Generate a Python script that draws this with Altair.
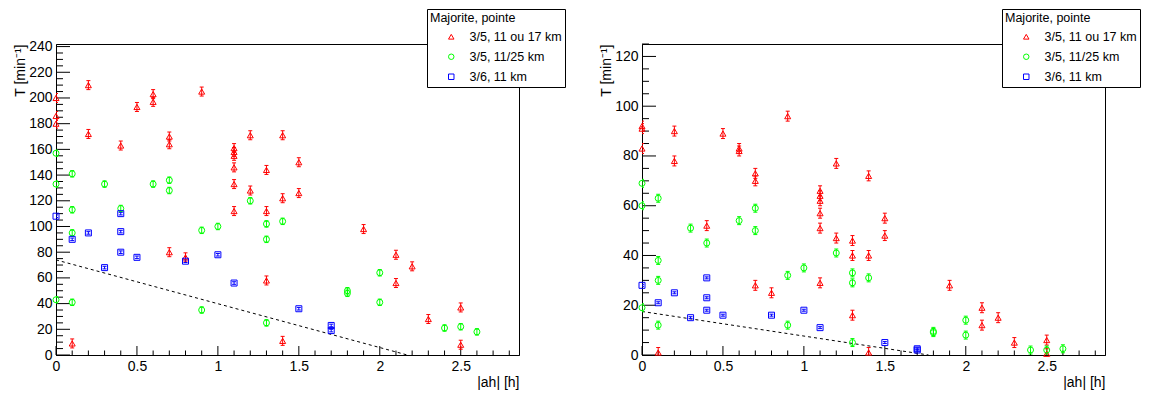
import altair as alt
import pandas as pd

SERIES = ["3/5, 11 ou 17 km", "3/5, 11/25 km", "3/6, 11 km"]
COLORS = ["#ff0000", "#00ff00", "#0000ff"]
SHAPES = ["triangle-up", "circle", "square"]
LEGEND_TITLE = "Majorite, pointe"
X_TITLE = "|ah| [h]"
Y_TITLE = "T [min⁻¹]"

# ---------------- left panel ----------------
L_red_x = [0, 0, 0, 0.1, 0.2, 0.2, 0.4, 0.5, 0.6, 0.6, 0.7, 0.7, 0.7, 0.8, 0.9,
           1.1, 1.1, 1.1, 1.1, 1.1, 1.1, 1.2, 1.2, 1.3, 1.3, 1.3, 1.4, 1.4, 1.4,
           1.5, 1.5, 1.9, 2.1, 2.1, 2.2, 2.3, 2.5, 2.5]
L_red_y = [200, 186, 180, 9, 210, 172, 163, 193, 203, 197, 170, 164, 80, 76, 205,
           161, 158, 155, 146, 133, 112, 171, 128, 144, 112, 58, 171, 122, 11,
           150, 126, 98, 78, 56, 69, 28, 37, 8]
L_green_x = [0, 0, 0, 0.1, 0.1, 0.1, 0.1, 0.3, 0.4, 0.6, 0.7, 0.7, 0.9, 0.9, 1.0,
             1.2, 1.3, 1.3, 1.3, 1.4, 1.8, 1.8, 2.0, 2.0, 2.4, 2.5, 2.6]
L_green_y = [157, 133, 43, 141, 113, 95, 41, 133, 114, 133, 136, 128, 97, 35, 100,
             120, 102, 90, 25, 104, 50, 48, 64, 41, 21, 22, 18]
L_blue_x = [0, 0.1, 0.2, 0.3, 0.4, 0.4, 0.4, 0.5, 0.8, 1.0, 1.1, 1.5, 1.7, 1.7]
L_blue_y = [108, 90, 95, 68, 110, 96, 80, 76, 73, 78, 56, 36, 23, 19]
L_err = [3.5, 2.5, 1.0]
L_line_x = [0, 2.17]
L_line_y = [74, 0]
L_Y_MAX = 242
L_Y_MAJOR = [0, 20, 40, 60, 80, 100, 120, 140, 160, 180, 200, 220, 240]

# ---------------- right panel ----------------
R_red_x = L_red_x
R_red_y = [92, 91, 83, 1, 90, 78, 52, 89, 83, 82, 73, 70, 28, 25, 96,
           66, 64, 62, 57, 51, 29, 77, 47, 46, 40, 16, 72, 40, 1,
           55, 48, 28, 19, 12, 15, 5, 6, 0.5]
R_green_x = L_green_x
R_green_y = [69, 60, 19, 63, 38, 30, 12, 51, 45, 54, 59, 50, 32, 12, 35,
             41, 33, 29, 5, 31, 9.5, 9, 14, 8, 2, 2, 2.5]
R_blue_x = L_blue_x
R_blue_y = [28, 21, 25, 15, 31, 23, 18, 16, 16, 18, 11, 5, 2.5, 2]
R_err = [2.0, 1.6, 0.4]
R_line_x = [0, 1.77]
R_line_y = [17.5, 0]
R_Y_MAX = 125
R_Y_MAJOR = [0, 20, 40, 60, 80, 100, 120]

X_MAX = 2.86
X_MAJOR = [0, 0.5, 1, 1.5, 2, 2.5]
X_MINOR = [0.1, 0.2, 0.3, 0.4, 0.6, 0.7, 0.8, 0.9, 1.1, 1.2, 1.3, 1.4, 1.6, 1.7,
           1.8, 1.9, 2.1, 2.2, 2.3, 2.4, 2.6, 2.7, 2.8]

W, H = 463, 311
FONT = "Liberation Sans"


def minor_y(major, ymax):
    out = []
    for a in major:
        for k in (5, 10, 15):
            if a + k <= ymax:
                out.append(a + k)
    return out


def panel(xs, ys, errs, line_x, line_y, ymax, ymajor, legend_x):
    rows = []
    caps = []
    for s, xx, yy, e in zip(SERIES, xs, ys, errs):
        for a, b in zip(xx, yy):
            rows.append({"x": a, "y": b, "s": s, "lo": b - e, "hi": b + e})
            caps.append({"x": a, "y": b - e, "s": s})
            caps.append({"x": a, "y": b + e, "s": s})
    df = pd.DataFrame(rows)
    dcaps = pd.DataFrame(caps)

    xsc = alt.Scale(domain=[0, X_MAX], nice=False, zero=False)
    ysc = alt.Scale(domain=[0, ymax], nice=False, zero=False)
    cs = alt.Scale(domain=SERIES, range=COLORS)
    ss = alt.Scale(domain=SERIES, range=SHAPES)

    xaxis = alt.Axis(values=X_MAJOR, format="~g", ticks=False, grid=False,
                     labelFlush=False, labelOverlap=False, labelPadding=4,
                     title=X_TITLE, titleAnchor="end", titleAlign="right",
                     titleX=W, titleY=31, titleBaseline="alphabetic")
    yaxis = alt.Axis(values=ymajor, ticks=False, grid=False, labelFlush=False,
                     labelOverlap=False, labelPadding=4,
                     title=Y_TITLE, titleAnchor="end", titleAlign="right",
                     titleAngle=270, titleX=-32, titleY=0,
                     titleBaseline="alphabetic")

    leg = alt.Legend(orient="none", legendX=legend_x, legendY=-35,
                     title=LEGEND_TITLE, titleFontSize=12.5,
                     titleFontWeight="normal", titleColor="black",
                     titleFont=FONT, titlePadding=6,
                     labelFontSize=12.5, labelColor="black", labelFont=FONT,
                     fillColor="white", strokeColor="black", padding=3,
                     rowPadding=7, symbolSize=30, symbolStrokeWidth=1,
                     symbolFillColor="transparent",
                     symbolOffset=15, labelOffset=12)

    X = alt.X("x:Q", scale=xsc, axis=xaxis)
    col = alt.Color("s:N", scale=cs, legend=leg)

    line = alt.Chart(pd.DataFrame({"x": line_x, "y": line_y})).mark_line(
        color="black", strokeDash=[3, 3], strokeWidth=1, clip=True
    ).encode(x=X, y=alt.Y("y:Q", scale=ysc, axis=yaxis))

    ebar = alt.Chart(df).mark_rule(strokeWidth=1, clip=True).encode(
        x=X, y=alt.Y("lo:Q", scale=ysc, axis=yaxis), y2="hi:Q", color=col)

    ecap = alt.Chart(dcaps).mark_rule(strokeWidth=1, clip=True,
                                      xOffset=-2, x2Offset=2).encode(
        x=X, x2=alt.X2("x:Q"), y=alt.Y("y:Q", scale=ysc, axis=yaxis),
        color=col)

    pts = alt.Chart(df).mark_point(filled=False, size=36, strokeWidth=1,
                                   opacity=1).encode(
        x=X, y=alt.Y("y:Q", scale=ysc, axis=yaxis),
        color=col,
        shape=alt.Shape("s:N", scale=ss, legend=leg))

    ymaj = alt.Chart(pd.DataFrame({"y": ymajor})).mark_rule(
        color="black", strokeWidth=1).encode(
        y=alt.Y("y:Q", scale=ysc, axis=yaxis), x=alt.value(0), x2=alt.value(14))
    ymin = alt.Chart(pd.DataFrame({"y": minor_y(ymajor, ymax)})).mark_rule(
        color="black", strokeWidth=1).encode(
        y=alt.Y("y:Q", scale=ysc, axis=yaxis), x=alt.value(0), x2=alt.value(7))
    xmaj = alt.Chart(pd.DataFrame({"x": X_MAJOR})).mark_rule(
        color="black", strokeWidth=1).encode(
        x=X, y=alt.value(H), y2=alt.value(H - 9))
    xmin = alt.Chart(pd.DataFrame({"x": X_MINOR})).mark_rule(
        color="black", strokeWidth=1).encode(
        x=X, y=alt.value(H), y2=alt.value(H - 4.5))

    return alt.layer(ymaj, ymin, xmaj, xmin, line, ebar, ecap, pts).properties(
        width=W, height=H)


left = panel([L_red_x, L_green_x, L_blue_x], [L_red_y, L_green_y, L_blue_y],
             L_err, L_line_x, L_line_y, L_Y_MAX, L_Y_MAJOR, 371)
right = panel([R_red_x, R_green_x, R_blue_x], [R_red_y, R_green_y, R_blue_y],
              R_err, R_line_x, R_line_y, R_Y_MAX, R_Y_MAJOR, 360)

chart = alt.hconcat(left, right, spacing=32).resolve_scale(
    color="independent", shape="independent"
).resolve_legend(
    color="independent", shape="independent"
).properties(
    padding={"left": 4, "top": 0, "right": 0, "bottom": 0}
).configure(
    background="white"
).configure_view(
    stroke="black", strokeWidth=1
).configure_axis(
    domainColor="black", domainWidth=1, labelFont=FONT, labelFontSize=14,
    labelColor="black", titleFont=FONT, titleFontSize=14,
    titleFontWeight="normal", titleColor="black"
)

chart.save("out.html", embed_options={"renderer": "svg", "actions": False})
